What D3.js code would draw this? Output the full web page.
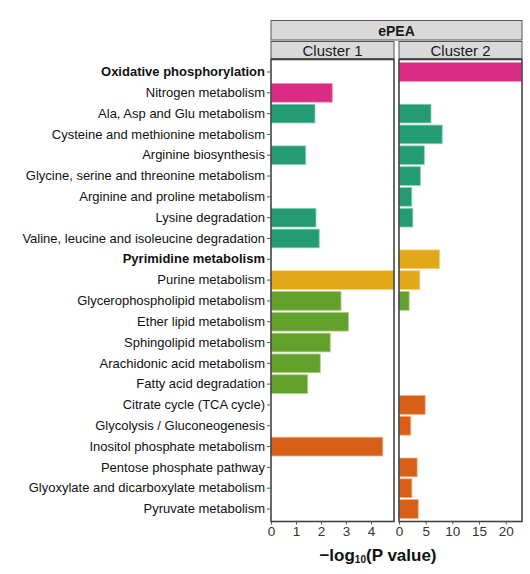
<!DOCTYPE html>
<html><head><meta charset="utf-8">
<script src="https://cdn.jsdelivr.net/npm/d3@7"></script>
<style>body{margin:0;background:#fff;} svg{display:block;font-family:"Liberation Sans",Arial,sans-serif;}</style>
</head><body><svg id="c" width="530" height="574"></svg>
<script>
const categories = ["Oxidative phosphorylation","Nitrogen metabolism","Ala, Asp and Glu metabolism","Cysteine and methionine metabolism","Arginine biosynthesis","Glycine, serine and threonine metabolism","Arginine and proline metabolism","Lysine degradation","Valine, leucine and isoleucine degradation","Pyrimidine metabolism","Purine metabolism","Glycerophospholipid metabolism","Ether lipid metabolism","Sphingolipid metabolism","Arachidonic acid metabolism","Fatty acid degradation","Citrate cycle (TCA cycle)","Glycolysis / Gluconeogenesis","Inositol phosphate metabolism","Pentose phosphate pathway","Glyoxylate and dicarboxylate metabolism","Pyruvate metabolism"];
const groups = ["A","A","B","B","B","B","B","B","B","C","C","D","D","D","D","D","E","E","E","E","E","E"];
const boldCategories = ["Oxidative phosphorylation","Pyrimidine metabolism"];
const cluster1 = [null,2.45,1.76,null,1.39,null,null,1.8,1.93,null,4.92,2.8,3.1,2.37,1.97,1.47,null,null,4.47,null,null,null];
const cluster2 = [23,null,6.0,8.1,4.75,4.0,2.4,2.6,null,7.6,3.9,1.9,null,null,null,null,4.9,2.2,null,3.4,2.4,3.6];
const panelNames = ["Cluster 1","Cluster 2"];
const facetTitle = "ePEA";
const ticks1 = [0,1,2,3,4];
const ticks2 = [0,5,10,15,20];

const svg = d3.select("#c");
const plotTop = 59.5, plotBottom = 521.5;
const panels = [
  {name: panelNames[0], x0: 271, x1: 394, max: 4.92, ticks: ticks1, values: cluster1},
  {name: panelNames[1], x0: 399, x1: 522, max: 23.05, ticks: ticks2, values: cluster2}
];
const color = d3.scaleOrdinal().domain(["A","B","C","D","E"]).range(["#DA2C84","#259B74","#E3A81A","#64A12C","#D75F16"]);
const stroke = d3.scaleOrdinal().domain(["A","B","C","D","E"]).range(["#F08CBE","#8FD3BA","#F3D27C","#AED08A","#F0A878"]);

const y = d3.scaleBand().domain(categories).range([plotTop, plotBottom]).paddingInner(0.1).paddingOuter(0.15);

svg.append("rect").attr("x",271).attr("y",20.5).attr("width",251).attr("height",19.5).attr("fill","#d9d9d9").attr("stroke","#555").attr("stroke-width",1);
svg.append("text").attr("x",396.5).attr("y",35.5).attr("text-anchor","middle").attr("font-size",14).attr("font-weight","bold").attr("fill","#1a1a1a").text(facetTitle);

panels.forEach(p => {
  const x = d3.scaleLinear().domain([0,p.max]).range([p.x0,p.x1]);
  svg.append("rect").attr("x",p.x0).attr("y",41.5).attr("width",p.x1-p.x0).attr("height",17).attr("fill","#d9d9d9").attr("stroke","#555").attr("stroke-width",1);
  svg.append("text").attr("x",(p.x0+p.x1)/2).attr("y",55.5).attr("text-anchor","middle").attr("font-size",15).attr("fill","#1a1a1a").text(p.name);
  const g = svg.append("g");
  const data = categories.map((c,i)=>({c, v:p.values[i], g:groups[i]})).filter(d=>d.v!=null);
  g.selectAll("rect").data(data).join("rect")
    .attr("x", x(0)).attr("y", d=>y(d.c)).attr("height", y.bandwidth())
    .attr("width", d=>x(d.v)-x(0))
    .attr("fill", d=>color(d.g)).attr("stroke", d=>stroke(d.g)).attr("stroke-width",0.8);
  svg.append("rect").attr("x",p.x0).attr("y",plotTop).attr("width",p.x1-p.x0).attr("height",plotBottom-plotTop)
    .attr("fill","none").attr("stroke","#444").attr("stroke-width",1.6);
  const ax = svg.append("g").attr("transform",`translate(0,${plotBottom})`)
    .call(d3.axisBottom(x).tickValues(p.ticks).tickSize(3).tickPadding(2).tickFormat(d3.format("d")));
  ax.select(".domain").remove();
  ax.selectAll("line").attr("stroke","#555");
  ax.selectAll("text").attr("font-size",13.5).attr("fill","#333").attr("font-family","Liberation Sans, Arial, sans-serif");
});

const ay = svg.append("g").attr("transform","translate(270,0)")
  .call(d3.axisLeft(y).tickSize(3).tickPadding(2));
ay.select(".domain").remove();
ay.selectAll("line").attr("stroke","#555");
ay.selectAll("text").attr("font-size",13).attr("fill","#111").attr("font-family","Liberation Sans, Arial, sans-serif")
  .attr("font-weight", d=>boldCategories.includes(d)?"bold":"normal");

const t = svg.append("text").attr("x",378).attr("y",561).attr("text-anchor","middle")
  .attr("font-size",17).attr("font-weight","bold").attr("fill","#111");
t.append("tspan").text("\u2212log");
t.append("tspan").attr("font-size",10).attr("dy",2).text("10");
t.append("tspan").attr("dy",-2).text("(P value)");
</script></body></html>
